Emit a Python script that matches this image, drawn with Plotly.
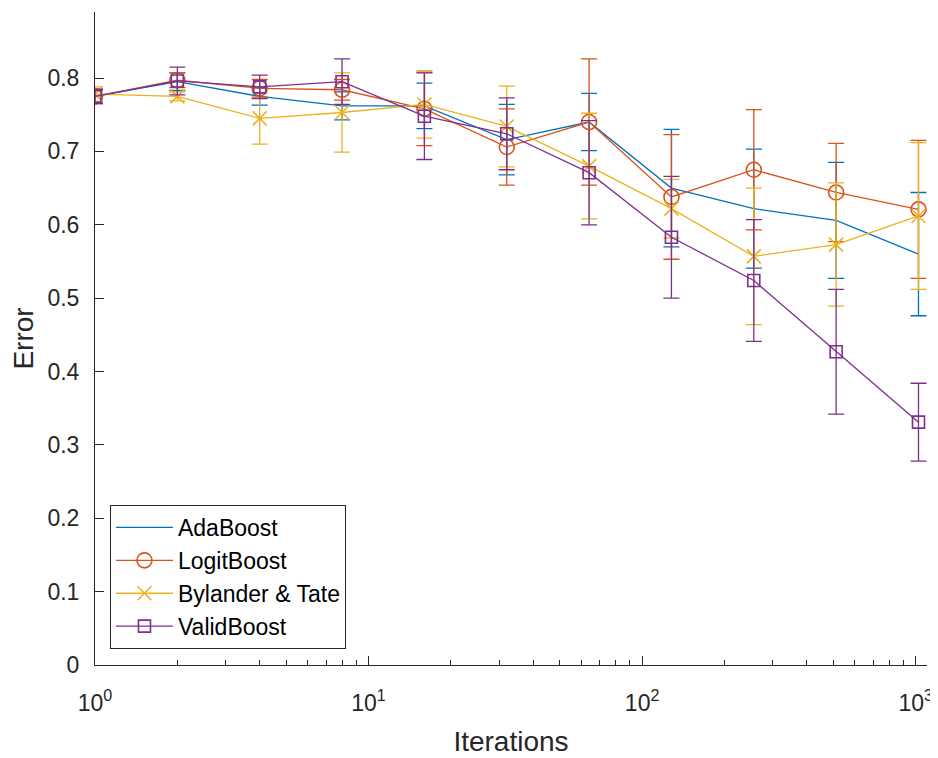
import plotly.graph_objects as go
import math

iterations = [1, 2, 4, 8, 16, 32, 64, 128, 256, 512, 1024]

ada = [0.775, 0.795, 0.775, 0.762, 0.762, 0.716, 0.740, 0.650, 0.622, 0.606, 0.560]
ada_err = [0.008, 0.012, 0.012, 0.019, 0.031, 0.048, 0.039, 0.080, 0.081, 0.079, 0.084]

logit = [0.775, 0.797, 0.786, 0.784, 0.758, 0.706, 0.740, 0.638, 0.675, 0.644, 0.621]
logit_err = [0.010, 0.010, 0.012, 0.014, 0.050, 0.052, 0.086, 0.085, 0.082, 0.067, 0.094]

bt = [0.778, 0.775, 0.745, 0.753, 0.764, 0.734, 0.680, 0.622, 0.557, 0.573, 0.612]
bt_err = [0.010, 0.006, 0.035, 0.054, 0.046, 0.055, 0.072, 0.040, 0.093, 0.084, 0.100]

valid = [0.775, 0.796, 0.788, 0.795, 0.748, 0.724, 0.671, 0.583, 0.524, 0.427, 0.331]
valid_err = [0.010, 0.019, 0.016, 0.031, 0.059, 0.049, 0.071, 0.083, 0.083, 0.085, 0.053]

names = ["AdaBoost", "LogitBoost", "Bylander &amp; Tate", "ValidBoost"]
colors = ["#0072BD", "#D95319", "#EDB120", "#7E2F8E"]
symbols = [None, "circle-open", "x-thin-open", "square-open"]
sizes = [0, 15, 14, 12]

x_major = [1, 10, 100, 1000]
x_major_text = ["10<sup>0</sup>", "10<sup>1</sup>", "10<sup>2</sup>", "10<sup>3</sup>"]
y_ticks = [0, 0.1, 0.2, 0.3, 0.4, 0.5, 0.6, 0.7, 0.8]
y_ticktext = ["0", "0.1", "0.2", "0.3", "0.4", "0.5", "0.6", "0.7", "0.8"]

minor_vals = [m * d for d in (1, 10, 100) for m in range(2, 10)]

FONT = "Liberation Sans, Arial, Helvetica, sans-serif"
INK = "#262626"

fig = go.Figure()
series = [(ada, ada_err), (logit, logit_err), (bt, bt_err), (valid, valid_err)]
for (vals, errs), name, col, sym, sz in zip(series, names, colors, symbols, sizes):
    if sym is None:
        mode = "lines"
        marker = dict(color=col)
    else:
        mode = "lines+markers"
        marker = dict(symbol=sym, size=sz, color=col,
                      line=dict(color=col, width=1.6))
    fig.add_trace(go.Scatter(
        x=iterations, y=vals, name=name, mode=mode,
        line=dict(color=col, width=1.3),
        marker=marker,
        error_y=dict(type="data", array=errs, visible=True,
                     color=col, thickness=1.3, width=8),
    ))

# page body has an 8px margin, so the figure is 8px smaller and shifted
fig.update_layout(
    width=930, height=750,
    margin=dict(l=87, r=11, t=4, b=93, autoexpand=False),
    paper_bgcolor="white", plot_bgcolor="white",
    font=dict(family=FONT, size=22, color=INK),
    showlegend=True,
    legend=dict(
        x=0.018, y=0.0245, xanchor="left", yanchor="bottom",
        bgcolor="white", bordercolor=INK, borderwidth=1,
        font=dict(family=FONT, size=23, color="#000000"),
        itemwidth=57,
        tracegroupgap=0,
    ),
    xaxis=dict(
        type="log", range=[0, math.log10(1100)],
        automargin=False,
        tickmode="array", tickvals=x_major, ticktext=x_major_text,
        ticks="inside", ticklen=9, tickwidth=1, tickcolor=INK,
        minor=dict(tickmode="array", tickvals=minor_vals, ticks="inside",
                   ticklen=5, tickwidth=1, tickcolor=INK, showgrid=False),
        showline=True, linecolor=INK, linewidth=1,
        showgrid=False, zeroline=False,
        tickfont=dict(size=23, color=INK),
        ticklabelstandoff=17,
        title=dict(text="Iterations", font=dict(size=28, color=INK), standoff=16),
    ),
    yaxis=dict(
        range=[0, 0.89],
        automargin=False,
        tickmode="array", tickvals=y_ticks, ticktext=y_ticktext,
        ticks="inside", ticklen=9, tickwidth=1, tickcolor=INK,
        showline=True, linecolor=INK, linewidth=1,
        showgrid=False, zeroline=False,
        tickfont=dict(size=23, color=INK),
        ticklabelstandoff=10,
        title=dict(text="Error", font=dict(size=28, color=INK), standoff=13),
    ),
)

fig.write_html("out.html")
